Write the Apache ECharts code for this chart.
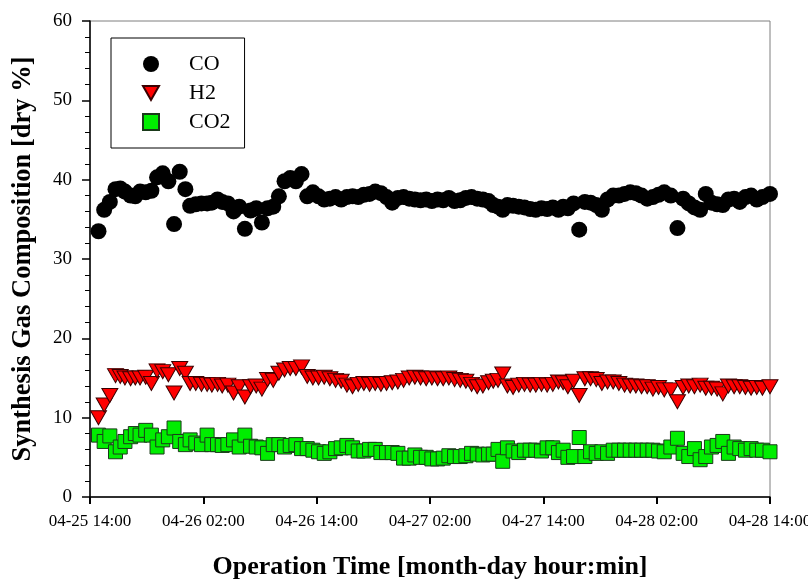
<!DOCTYPE html>
<html>
<head>
<meta charset="utf-8">
<script src="https://cdn.jsdelivr.net/npm/echarts@6/dist/echarts.min.js"></script>
<style>html,body{margin:0;padding:0;background:#fff;}#chart{width:808px;height:579px;}</style>
</head>
<body>
<div id="chart"></div>
<script>
// Hours elapsed since 04-25 14:00
const hours = [
  0.9,1.5,2.1,2.7,3.2,3.7,4.3,4.8,5.3,5.9,
  6.5,7.1,7.7,8.3,8.9,9.5,10.1,10.6,11.2,11.8,
  12.4,12.9,13.5,14.0,14.6,15.2,15.8,16.4,17.0,17.6,
  18.2,18.8,19.4,20.0,20.6,21.2,21.8,22.4,23.0,23.6,
  24.2,24.8,25.4,26.0,26.6,27.2,27.8,28.4,29.0,29.6,
  30.2,30.8,31.4,32.0,32.6,33.2,33.8,34.4,35.0,35.6,
  36.2,36.8,37.4,38.0,38.6,39.2,39.8,40.4,41.0,41.6,
  42.2,42.7,43.2,43.7,44.2,44.8,45.4,46.0,46.6,47.2,
  47.8,48.4,49.0,49.6,50.1,50.6,51.2,51.8,52.4,53.0,
  53.6,54.2,54.8,55.4,56.0,56.6,57.2,57.8,58.4,59.0,
  59.6,60.2,60.8,61.5,62.2,62.8,63.4,64.0,64.6,65.2,
  65.8,66.4,67.0,67.6,68.2,68.8,69.4,70.0,70.6,71.2,
  72.0
];
const coValues = [
  33.5,36.2,37.2,38.8,38.9,38.5,38.0,37.9,38.5,38.4,
  38.6,40.3,40.8,39.8,34.4,41.0,38.8,36.7,36.9,37.0,
  37.0,37.1,37.5,37.2,37.0,36.0,36.6,33.8,36.1,36.4,
  34.6,36.4,36.6,37.9,39.8,40.2,39.8,40.7,37.9,38.4,
  37.9,37.5,37.6,37.8,37.5,37.8,37.9,37.8,38.1,38.2,
  38.5,38.3,37.8,37.1,37.7,37.8,37.6,37.5,37.4,37.5,
  37.3,37.5,37.4,37.7,37.3,37.4,37.7,37.8,37.6,37.5,
  37.3,36.8,36.6,36.2,36.8,36.7,36.6,36.5,36.3,36.2,
  36.4,36.3,36.5,36.2,36.6,36.4,37.0,33.7,37.2,37.1,
  36.8,36.2,37.5,38.0,38.0,38.2,38.4,38.3,38.0,37.6,
  37.8,38.1,38.4,38.0,33.9,37.6,37.0,36.5,36.2,38.2,
  37.1,36.9,36.8,37.5,37.6,37.2,37.8,38.0,37.5,37.8,
  38.2
];
const h2Values = [
  10.0,11.6,12.8,15.3,15.2,15.0,14.9,15.0,15.0,15.1,
  14.3,15.9,15.8,15.4,13.1,16.2,15.6,14.3,14.3,14.2,
  14.2,14.1,14.2,14.0,14.1,13.1,13.9,12.6,13.9,14.0,
  13.6,14.8,14.7,15.6,16.0,16.2,16.2,16.4,15.2,15.0,
  15.0,15.1,14.9,14.7,14.6,14.1,13.9,14.2,14.3,14.2,
  14.3,14.2,14.3,14.4,14.5,14.7,15.0,15.1,15.0,14.9,
  15.0,14.9,14.9,15.0,14.8,14.7,14.6,14.2,13.9,14.0,
  14.4,14.6,14.7,15.5,14.0,13.8,14.1,14.2,14.1,14.1,
  14.2,14.1,14.2,14.5,14.4,13.9,14.6,12.8,14.9,14.9,
  14.8,14.3,14.5,14.5,14.3,14.1,14.0,14.0,13.9,13.9,
  13.6,13.8,13.5,13.5,12.0,13.8,14.0,13.9,14.1,13.7,
  13.7,13.6,13.0,14.0,13.9,13.9,13.8,13.7,13.8,13.7,
  13.9
];
const co2Values = [
  7.8,7.0,7.7,5.7,6.3,7.0,7.6,8.0,7.8,8.4,
  7.8,6.3,7.2,7.6,8.7,7.0,6.6,7.2,6.8,6.6,
  7.8,6.6,6.6,6.5,6.6,7.2,6.3,7.8,6.4,6.3,
  6.2,5.5,6.6,6.6,6.3,6.5,6.6,6.1,6.1,5.9,
  5.7,5.5,5.7,6.1,6.2,6.5,6.2,5.8,5.8,6.0,
  6.0,5.6,5.6,5.6,5.5,4.9,4.9,5.3,5.0,5.0,
  4.8,4.8,4.9,5.2,5.1,5.1,5.2,5.5,5.4,5.3,
  5.4,5.4,6.0,4.5,6.2,5.8,5.6,5.9,5.9,5.9,
  5.8,6.2,6.2,5.6,5.9,5.0,5.1,7.5,5.1,5.7,
  5.5,5.7,5.5,5.9,5.9,5.9,5.9,5.9,5.9,5.9,
  5.9,5.8,5.7,6.3,7.4,5.5,5.1,6.1,4.7,5.1,
  6.3,6.5,7.0,5.5,6.3,6.1,5.9,6.1,5.9,5.9,
  5.7
];
const tickLabels = ['04-25 14:00','04-26 02:00','04-26 14:00','04-27 02:00','04-27 14:00','04-28 02:00','04-28 14:00'];
const seriesNames = ['CO','H2','CO2'];

const FONT = "'Liberation Serif', 'Times New Roman', serif";
const pair = vals => hours.map((h, i) => [h, vals[i]]);

const chart = echarts.init(document.getElementById('chart'), null, {renderer: 'canvas'});
chart.setOption({
  animation: false,
  backgroundColor: '#fff',
  textStyle: {fontFamily: FONT},
  grid: {left: 90, right: 38, top: 21, bottom: 82, show: true, borderColor: '#7f7f7f', borderWidth: 1,
    outerBoundsMode: 'none', containLabel: false},
  legend: {
    orient: 'vertical', left: 111, top: 38,
    padding: [15, 14, 15, 31],
    borderColor: '#000', borderWidth: 1,
    itemWidth: 16, itemHeight: 16, itemGap: 7,
    selectedMode: false,
    data: [
      {name: seriesNames[0], icon: 'circle'},
      {name: seriesNames[1], icon: 'path://M0,0 L16,0 L8,14 Z'},
      {name: seriesNames[2], icon: 'rect'}
    ],
    textStyle: {fontFamily: FONT, fontSize: 22, lineHeight: 22, color: '#000', padding: [0, 0, 0, 25]}
  },
  xAxis: {
    type: 'value', min: 0, max: 72, interval: 12,
    name: 'Operation Time [month-day hour:min]',
    nameLocation: 'middle', nameGap: 57,
    nameTextStyle: {fontFamily: FONT, fontSize: 26, fontWeight: 'bold', color: '#000'},
    axisLine: {lineStyle: {color: '#000', width: 1.5}},
    axisTick: {show: true, inside: false, length: 7, lineStyle: {color: '#000', width: 2}},
    axisLabel: {margin: 16, fontFamily: FONT, fontSize: 17, color: '#000',
      formatter: v => tickLabels[Math.round(v / 12)] || ''},
    splitLine: {show: false}
  },
  yAxis: {
    type: 'value', min: 0, max: 60, interval: 10,
    name: 'Synthesis Gas Composition [dry %]',
    nameLocation: 'middle', nameGap: 53,
    nameTextStyle: {fontFamily: FONT, fontSize: 26.5, fontWeight: 'bold', color: '#000'},
    axisLine: {lineStyle: {color: '#000', width: 1.5}},
    axisTick: {show: true, inside: false, length: 8, lineStyle: {color: '#000', width: 1.5}},
    minorTick: {show: true, splitNumber: 5, length: 5, lineStyle: {color: '#000', width: 1}},
    axisLabel: {margin: 18, fontFamily: FONT, fontSize: 19, color: '#000'},
    splitLine: {show: false}
  },
  series: [
    {name: seriesNames[2], type: 'scatter', data: pair(co2Values), symbol: 'rect', symbolSize: 14, clip: false,
      itemStyle: {color: '#00ee00', borderColor: '#1a3a1a', borderWidth: 1, opacity: 1}},
    {name: seriesNames[1], type: 'scatter', data: pair(h2Values), symbol: 'triangle', symbolRotate: 180, symbolSize: [16, 14], clip: false,
      itemStyle: {color: '#ff0000', borderColor: '#3a0000', borderWidth: 1, opacity: 1}},
    {name: seriesNames[0], type: 'scatter', data: pair(coValues), symbol: 'circle', symbolSize: 16, clip: false,
      itemStyle: {color: '#000', opacity: 1}}
  ]
});
</script>
</body>
</html>
